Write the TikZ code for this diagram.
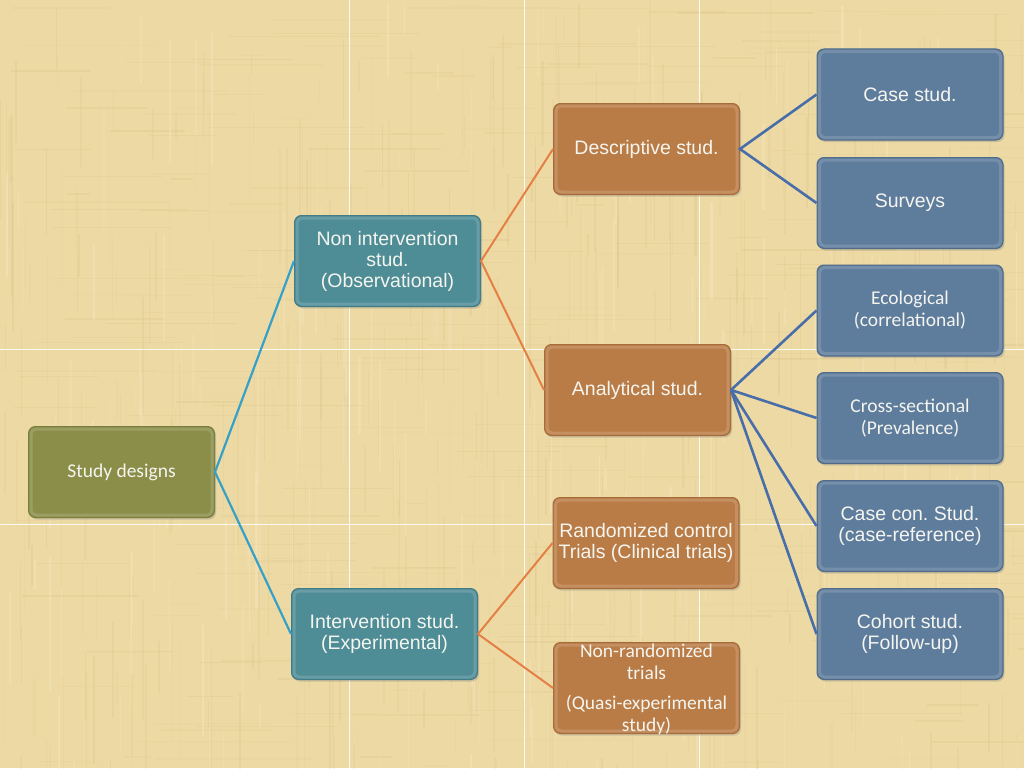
\documentclass[tikz,border=0pt]{standalone}
\usepackage{fontspec}
\setmainfont{Liberation Sans}
\newfontfamily\calib{Carlito}
\AtBeginDocument{\frenchspacing}
\usetikzlibrary{shadows}
\definecolor{paper}{RGB}{237,217,164}
\definecolor{fiber}{RGB}{212,186,126}
\definecolor{fiberlight}{RGB}{248,236,200}
\definecolor{olive}{RGB}{138,142,72}
\definecolor{olivedk}{RGB}{122,126,62}
\definecolor{teal}{RGB}{78,140,150}
\definecolor{tealdk}{RGB}{66,124,134}
\definecolor{brownbox}{RGB}{186,124,70}
\definecolor{browndk}{RGB}{166,108,60}
\definecolor{slate}{RGB}{94,124,156}
\definecolor{slatedk}{RGB}{80,108,138}
\definecolor{cyanline}{RGB}{53,160,200}
\definecolor{orangeline}{RGB}{228,128,68}
\definecolor{blueline}{RGB}{72,110,170}
\definecolor{txt}{RGB}{245,245,240}
\tikzset{
  boxbase/.style={rounded corners=7pt, minimum width=186pt, minimum height=91pt,
    inner sep=0pt, align=center, text=txt, line width=1pt,
    font=\frenchspacing\fontsize{19.5}{21}\selectfont,
    drop shadow={opacity=0.3, shadow xshift=1.5pt, shadow yshift=-2pt},
    path picture={\draw[white, opacity=0.15, line width=3pt, rounded corners=5pt]
      ([xshift=2.5pt,yshift=-2.5pt]path picture bounding box.north west) rectangle
      ([xshift=-2.5pt,yshift=2.5pt]path picture bounding box.south east);}},
  greenbox/.style={boxbase, fill=olive, draw=olivedk},
  tealbox/.style={boxbase, fill=teal, draw=tealdk},
  brownb/.style={boxbase, fill=brownbox, draw=browndk},
  slatebox/.style={boxbase, fill=slate, draw=slatedk},
  calibtext/.style={font=\calib\frenchspacing\fontsize{19.5}{22}\selectfont},
  cyanconn/.style={draw=cyanline, line width=2.2pt},
  orangeconn/.style={draw=orangeline, line width=2pt},
  blueconn/.style={draw=blueline, line width=2.6pt},
  gridline/.style={draw=white, opacity=0.85, line width=1pt}
}
\begin{document}
\begin{tikzpicture}[x=1pt, y=-1pt]
\useasboundingbox (0,0) rectangle (1024,768);
\fill[paper] (0,0) rectangle (1024,768);
% papyrus texture
\pgfmathsetseed{7}
\foreach \i in {1,...,400} {
  \pgfmathsetmacro{\xx}{rnd*1024}
  \pgfmathsetmacro{\yy}{rnd*768}
  \pgfmathsetmacro{\ll}{20+rnd*120}
  \pgfmathsetmacro{\op}{0.06+rnd*0.16}
  \pgfmathsetmacro{\ww}{0.5+rnd*1.8}
  \draw[fiber, opacity=\op, line width=\ww pt] (\xx,\yy) -- ++(0,\ll);
}
\foreach \i in {1,...,300} {
  \pgfmathsetmacro{\xx}{rnd*1024}
  \pgfmathsetmacro{\yy}{rnd*768}
  \pgfmathsetmacro{\ll}{20+rnd*140}
  \pgfmathsetmacro{\op}{0.06+rnd*0.16}
  \pgfmathsetmacro{\ww}{0.5+rnd*1.6}
  \draw[fiber, opacity=\op, line width=\ww pt] (\xx,\yy) -- ++(\ll,0);
}
\foreach \i in {1,...,200} {
  \pgfmathsetmacro{\xx}{rnd*1024}
  \pgfmathsetmacro{\yy}{rnd*768}
  \pgfmathsetmacro{\ll}{20+rnd*120}
  \pgfmathsetmacro{\op}{0.12+rnd*0.25}
  \pgfmathsetmacro{\ww}{0.8+rnd*2}
  \draw[fiberlight, opacity=\op, line width=\ww pt] (\xx,\yy) -- ++(0,\ll);
}
% white grid lines
\foreach \gx in {349,524,699} \draw[gridline] (\gx,0) -- (\gx,768);
\foreach \gy in {349,524} \draw[gridline] (0,\gy) -- (1024,\gy);

% nodes
\node[greenbox, calibtext] (sd) at (121.5,472) {Study designs};
\node[tealbox] (ni) at (387.5,261) {Non intervention\\stud.\\(Observational)};
\node[tealbox] (iv) at (384.5,634) {Intervention stud.\\(Experimental)};
\node[brownb] (ds) at (646.5,149) {Descriptive stud.};
\node[brownb] (an) at (637.5,390) {Analytical stud.};
\node[brownb] (rc) at (646,543) {Randomized control\\Trials (Clinical trials)};
\node[brownb] (nr) at (646.5,688) {};
\node[calibtext, text=txt, align=center, inner sep=0pt] (nrt) at (646.5,689)
  {Non-randomized\\trials\\[8pt](Quasi-experimental\\study)};
\node[slatebox] (cs) at (910,94.5) {Case stud.};
\node[slatebox] (sv) at (910,203) {Surveys};
\node[slatebox, calibtext] (ec) at (910,310.5) {Ecological\\(correlational)};
\node[slatebox, calibtext] (cr) at (910,418) {Cross-sectional\\(Prevalence)};
\node[slatebox] (cc) at (910,526) {Case con. Stud.\\(case-reference)};
\node[slatebox] (co) at (910,634) {Cohort stud.\\(Follow-up)};

% connectors
\draw[cyanconn] (ni.west) -- (sd.east) -- (iv.west);
\draw[orangeconn] (ds.west) -- (ni.east) -- (an.west);
\draw[orangeconn] (rc.west) -- (iv.east) -- (nr.west);
\draw[blueconn] (cs.west) -- (ds.east) -- (sv.west);
\draw[blueconn] (an.east) -- (ec.west);
\draw[blueconn] (an.east) -- (cr.west);
\draw[blueconn] (an.east) -- (cc.west);
\draw[blueconn] (an.east) -- (co.west);
\end{tikzpicture}
\end{document}
